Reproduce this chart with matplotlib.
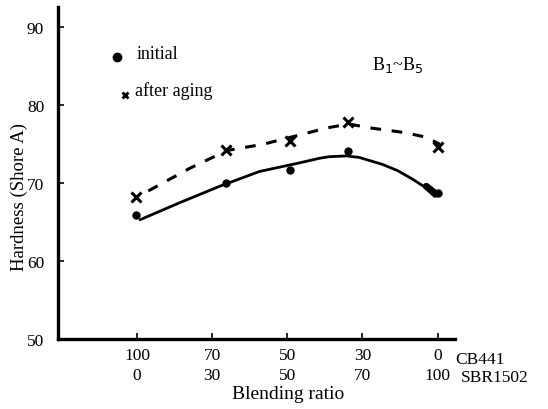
import matplotlib.pyplot as plt
import numpy as np

plt.rcParams['font.family'] = ['Liberation Serif', 'DejaVu Serif']

# blend positions (1..5 = CB441 100/70/50/30/0)
cb441 = ["100", "70", "50", "30", "0"]
sbr1502 = ["0", "30", "50", "70", "100"]

# measured points
x_pts = [0.99, 2.19, 3.03, 3.81, 5.0]
initial = [65.9, 70.0, 71.7, 74.1, 68.8]
aged = [68.2, 74.2, 75.4, 77.9, 74.7]

# hand-drawn trend curves
x_solid = [1.04, 1.57, 2.10, 2.63, 3.16, 3.43, 3.56, 3.79, 3.96, 4.27, 4.47, 4.67, 4.83, 4.96]
y_solid = [65.3, 67.5, 69.6, 71.5, 72.6, 73.2, 73.4, 73.5, 73.3, 72.4, 71.6, 70.5, 69.5, 68.3]
x_dash = [1.15, 1.70, 2.20, 2.68, 3.21, 3.53, 3.82, 4.10, 4.56, 4.85, 5.03]
y_dash = [69.0, 71.9, 74.2, 75.0, 76.3, 77.1, 77.6, 77.1, 76.5, 75.9, 75.0]

fig = plt.figure(figsize=(5.48, 4.10), dpi=100)
ax = fig.add_axes([0.106, 0.171, 0.724, 0.809])

ax.plot(x_solid, y_solid, color='black', lw=2.0, solid_capstyle='round', solid_joinstyle='round')
ax.plot(x_dash, y_dash, color='black', lw=2.2, dashes=(3.5, 3.5))
ax.plot(x_pts, initial, 'o', color='black', ms=5, ls='none')
ax.plot(x_pts, aged, 'x', color='black', ms=7, mew=2.2, ls='none')
# smeared last point
ax.plot([4.85, 4.98], [69.6, 68.6], color='black', lw=5, solid_capstyle='round')

ax.set_xlim(-0.05, 5.23)
ax.set_ylim(50, 92.6)
ax.set_yticks([50, 60, 70, 80, 90])
ax.set_xticks([1, 2, 3, 4, 5])
ax.set_xticklabels([a + "\n" + b for a, b in zip(cb441, sbr1502)], linespacing=1.35)

for s in ['top', 'right']:
    ax.spines[s].set_visible(False)
for s in ['left', 'bottom']:
    ax.spines[s].set_linewidth(2.4)

ax.tick_params(direction='in', length=4, width=1.2, labelsize=12.5, pad=6)
ax.tick_params(axis='y', pad=10)

ax.text(5.23, 47.4, "CB441", fontsize=12.5, va='center', ha='left')
ax.text(5.31, 45.1, "SBR1502", fontsize=12.5, va='center', ha='left')
ax.text(0.58, -0.165, "Blending ratio", transform=ax.transAxes, fontsize=14, ha='center', va='center')
ax.set_ylabel("Hardness (Shore A)", fontsize=13.5)
ax.yaxis.set_label_coords(-0.075, 0.43)

# legend drawn by hand
ax.plot([0.73], [86.2], 'o', color='black', ms=6)
ax.text(1.0, 86.7, "initial", fontsize=13, va='center')
ax.plot([0.84], [81.3], 'x', color='black', ms=5, mew=2)
ax.text(0.97, 81.9, "after aging", fontsize=13, va='center')
ax.text(4.13, 85.3, r"B$_1$~B$_5$", fontsize=13, va='center')

fig.savefig("out.png", dpi=100)
